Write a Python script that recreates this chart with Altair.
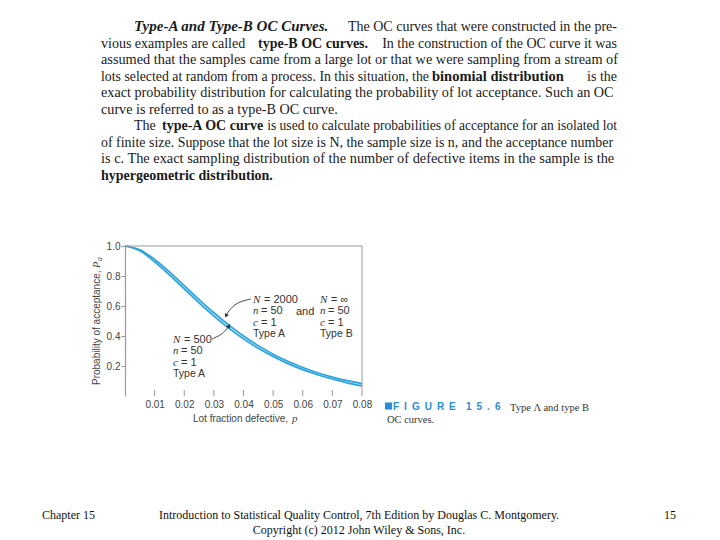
import altair as alt
import pandas as pd

# ---------------- data ----------------
p_values = [0.0, 0.005, 0.01, 0.015, 0.02, 0.025, 0.03, 0.035, 0.04, 0.045,
            0.05, 0.055, 0.06, 0.065, 0.07, 0.075, 0.08]
# N = 2000 type A  /  N = infinity type B (n = 50, c = 1)
pa_upper = [1.0, 0.975, 0.911, 0.828, 0.736, 0.643, 0.555, 0.474, 0.400, 0.336,
            0.279, 0.231, 0.190, 0.155, 0.126, 0.102, 0.083]
# N = 500 type A (n = 50, c = 1)
pa_lower = [1.0, 0.968, 0.895, 0.808, 0.714, 0.621, 0.533, 0.453, 0.381, 0.318,
            0.263, 0.216, 0.176, 0.142, 0.113, 0.088, 0.067]
x_ticks = [0.01, 0.02, 0.03, 0.04, 0.05, 0.06, 0.07, 0.08]
y_ticks = [0.2, 0.4, 0.6, 0.8, 1.0]

# annotation arrows (in data units)
arrow1_p = [0.0425, 0.0381, 0.0354, 0.0341]
arrow1_pa = [0.647, 0.627, 0.580, 0.535]
arrow2_p = [0.0294, 0.0324, 0.0341, 0.0351]
arrow2_pa = [0.380, 0.407, 0.440, 0.468]

paragraph = [
    [("Type-A and Type-B OC Curves.", "bold", "italic"),
     ("The OC curves that were constructed in the pre-", "normal", "normal")],
    [("vious examples are called", "normal", "normal"),
     ("type-B OC curves.", "bold", "normal"),
     ("In the construction of the OC curve it was", "normal", "normal")],
    [("assumed that the samples came from a large lot or that we were sampling from a stream of", "normal", "normal")],
    [("lots selected at random from a process. In this situation, the", "normal", "normal"),
     ("binomial distribution", "bold", "normal"),
     ("is the", "normal", "normal")],
    [("exact probability distribution for calculating the probability of lot acceptance. Such an OC", "normal", "normal")],
    [("curve is referred to as a type-B OC curve.", "normal", "normal")],
    [("The", "normal", "normal"),
     ("type-A OC curve", "bold", "normal"),
     ("is used to calculate probabilities of acceptance for an isolated lot", "normal", "normal")],
    [("of finite size. Suppose that the lot size is N, the sample size is n, and the acceptance number", "normal", "normal")],
    [("is c. The exact sampling distribution of the number of defective items in the sample is the", "normal", "normal")],
    [("hypergeometric distribution.", "bold", "normal")],
]
# layout of the paragraph: (x, align, font size) for each segment, and line baselines
para_pos = [
    [(134, "left", 15), (617, "right", 14)],
    [(101, "left", 14), (258, "left", 14), (617, "right", 14)],
    [(101, "left", 14.3)],
    [(101, "left", 13.8), (432, "left", 14.5), (617, "right", 14)],
    [(101, "left", 14.2)],
    [(101, "left", 14.2)],
    [(134, "left", 14), (162, "left", 14), (617, "right", 13.55)],
    [(101, "left", 13.95)],
    [(101, "left", 14.35)],
    [(101, "left", 14)],
]
para_baselines = [31, 48, 64, 81, 97, 114, 130, 147, 163, 180]

ann_blocks = [
    # (variable letters, values, label)
    (["N", "n", "c"], ["= 2000", "= 50", "= 1"], "Type A"),
    (["N", "n", "c"], ["= \u221e", "= 50", "= 1"], "Type B"),
    (["N", "n", "c"], ["= 500", "= 50", "= 1"], "Type A"),
]
ann_pos = [(253, 303), (320, 303), (173, 343)]
and_text = "and"

y_title = "Probability of acceptance,"
x_title = "Lot fraction defective,"
caption_word = "F\u2002I\u2002G\u2002U\u2002R\u2002E"
caption_num = "1\u20025\u2002.\u20026"
caption_1 = "Type \u039b and type B"
caption_2 = "OC curves."
footer_left = "Chapter 15"
footer_mid_1 = "Introduction to Statistical Quality Control, 7th Edition by Douglas C. Montgomery."
footer_mid_2 = "Copyright (c) 2012  John Wiley & Sons, Inc."
footer_right = "15"

# ---------------- layout ----------------
W, H = 237, 150
PX0, PY0 = 125, 246  # page position of the plot origin
TOTAL_W, TOTAL_H = 704, 532


def tx(X):
    return X - PX0


def ty(Y):
    return Y - PY0


def label(text, X, Y, size=14, font="Liberation Serif", weight="normal",
          style="normal", align="left", color="#1a1a1a", angle=0,
          baseline="alphabetic"):
    return alt.Chart(alt.Data(values=[{}])).mark_text(
        text=text, font=font, fontSize=size, fontWeight=weight,
        fontStyle=style, align=align, baseline=baseline, color=color,
        angle=angle,
    ).encode(x=alt.value(tx(X)), y=alt.value(ty(Y)))


xs = alt.Scale(domain=[0, 0.08], nice=False, zero=False)
ys = alt.Scale(domain=[0, 1], nice=False)
xaxis = alt.Axis(values=x_ticks, format=".2f", ticks=False, domain=False,
                 grid=False, labelFont="Liberation Sans", labelFontSize=10,
                 labelColor="#444", labelPadding=3, labelFlush=False, title=None)
yaxis = alt.Axis(values=y_ticks, format=".1f", tickSize=4, tickColor="#999",
                 domainColor="#999", domainWidth=1.2, labelPadding=1,
                 grid=False, labelFont="Liberation Sans", labelFontSize=10,
                 labelColor="#444", labelFlush=False, title=None)

df = pd.DataFrame({"p": p_values, "upper": pa_upper, "lower": pa_lower})
long = pd.concat([
    pd.DataFrame({"p": p_values, "pa": pa_upper, "curve": "upper"}),
    pd.DataFrame({"p": p_values, "pa": pa_lower, "curve": "lower"}),
])

band = alt.Chart(df).mark_area(color="#cbeefb", interpolate="monotone").encode(
    x=alt.X("p:Q", scale=xs, axis=xaxis),
    y=alt.Y("lower:Q", scale=ys, axis=yaxis),
    y2="upper:Q",
)
lines = alt.Chart(long).mark_line(color="#2ea3dc", strokeWidth=1.7,
                                  interpolate="monotone").encode(
    x=alt.X("p:Q", scale=xs, axis=xaxis),
    y=alt.Y("pa:Q", scale=ys, axis=yaxis),
    detail="curve:N",
)

frame_top = alt.Chart(pd.DataFrame({"a": [0.0], "b": [0.08], "y": [1.0]})).mark_rule(
    color="#999", strokeWidth=1).encode(
    x=alt.X("a:Q", scale=xs, axis=xaxis), x2="b:Q", y=alt.Y("y:Q", scale=ys, axis=yaxis))
frame_right = alt.Chart(pd.DataFrame({"x": [0.08], "a": [0.04], "b": [1.0]})).mark_rule(
    color="#999", strokeWidth=1).encode(
    x=alt.X("x:Q", scale=xs, axis=xaxis), y=alt.Y("a:Q", scale=ys, axis=yaxis), y2="b:Q")
xtick_rules = alt.Chart(pd.DataFrame({"t": x_ticks, "a": 0.0, "b": 0.04})).mark_rule(
    color="#999", strokeWidth=1).encode(
    x=alt.X("t:Q", scale=xs, axis=xaxis), y=alt.Y("a:Q", scale=ys, axis=yaxis), y2="b:Q")

arrow_df = pd.concat([
    pd.DataFrame({"p": arrow1_p, "pa": arrow1_pa, "k": "a1", "o": range(len(arrow1_p))}),
    pd.DataFrame({"p": arrow2_p, "pa": arrow2_pa, "k": "a2", "o": range(len(arrow2_p))}),
])
arrows = alt.Chart(arrow_df).mark_line(color="#333", strokeWidth=0.9,
                                       interpolate="basis").encode(
    x=alt.X("p:Q", scale=xs, axis=xaxis), y=alt.Y("pa:Q", scale=ys, axis=yaxis),
    detail="k:N", order="o:Q")
heads_df = pd.DataFrame({"p": [arrow1_p[-1], arrow2_p[-1]],
                         "pa": [arrow1_pa[-1], arrow2_pa[-1]],
                         "ang": [205, 30]})
heads = alt.Chart(heads_df).mark_point(shape="triangle-up", filled=True,
                                       color="#333", size=22, opacity=1).encode(
    x=alt.X("p:Q", scale=xs, axis=xaxis), y=alt.Y("pa:Q", scale=ys, axis=yaxis),
    angle=alt.Angle("ang:Q", scale=None))

layers = [band, lines, frame_top, frame_right, xtick_rules, arrows, heads]

# paragraph
for segs, poss, yb in zip(paragraph, para_pos, para_baselines):
    for (t, w, s), (X, al, fs) in zip(segs, poss):
        layers.append(label(t, X, yb, size=fs, weight=w, style=s, align=al))

# annotations inside the plot
for (letters, vals, typ), (X0, Y0) in zip(ann_blocks, ann_pos):
    for i, (L, v) in enumerate(zip(letters, vals)):
        yy = Y0 + i * 11.3
        layers.append(label(L, X0, yy, size=11, font="Liberation Serif",
                            style="italic", color="#333"))
        off = 11 if L == "N" else 8
        layers.append(label(v, X0 + off, yy, size=11, font="Liberation Sans",
                            color="#333"))
    layers.append(label(typ, X0, Y0 + 3 * 11.3, size=10.5,
                        font="Liberation Sans", color="#333"))
layers.append(label(and_text, 296, 315, size=11, font="Liberation Sans", color="#333"))

# axis titles
layers.append(label(y_title, 97, 385, size=10, font="Liberation Sans",
                    color="#444", angle=270, baseline="middle"))
layers.append(label("P", 97, 268, size=10.5, font="Liberation Serif",
                    style="italic", color="#444", angle=270, baseline="middle"))
layers.append(label("a", 100, 261, size=7.5, font="Liberation Serif",
                    style="italic", color="#444", angle=270, baseline="middle"))
layers.append(label(x_title, 193, 419, size=10, font="Liberation Sans",
                    color="#444", baseline="middle"))
layers.append(label("p", 292, 419, size=11, font="Liberation Serif",
                    style="italic", color="#444", baseline="middle"))

# caption
layers.append(alt.Chart(alt.Data(values=[{}])).mark_point(
    shape="square", filled=True, color="#2a8dd4", size=50, opacity=1).encode(
    x=alt.value(tx(388.5)), y=alt.value(ty(406))))
layers.append(label(caption_word, 393, 410, size=10, font="Liberation Sans",
                    weight="bold", color="#2a8dd4"))
layers.append(label(caption_num, 466, 410, size=10, font="Liberation Sans",
                    weight="bold", color="#2a8dd4"))
layers.append(label(caption_1, 510, 411, size=10.5, color="#333"))
layers.append(label(caption_2, 387, 423, size=10.5, color="#333"))

# footer
layers.append(label(footer_left, 42, 519, size=12, color="#111"))
layers.append(label(footer_mid_1, 359, 519, size=12, color="#111", align="center"))
layers.append(label(footer_mid_2, 359, 534, size=12, color="#111", align="center"))
layers.append(label(footer_right, 670, 519, size=12, color="#111", align="center"))

chart = alt.layer(*layers).properties(
    width=W, height=H, autosize="none",
    padding={"left": PX0 - 8, "top": PY0 - 8,
             "right": TOTAL_W - (PX0 - 8) - W,
             "bottom": TOTAL_H - (PY0 - 8) - H},
    background="white",
).configure_view(stroke=None)

chart.save("out.html", embed_options={"renderer": "svg", "actions": False})
